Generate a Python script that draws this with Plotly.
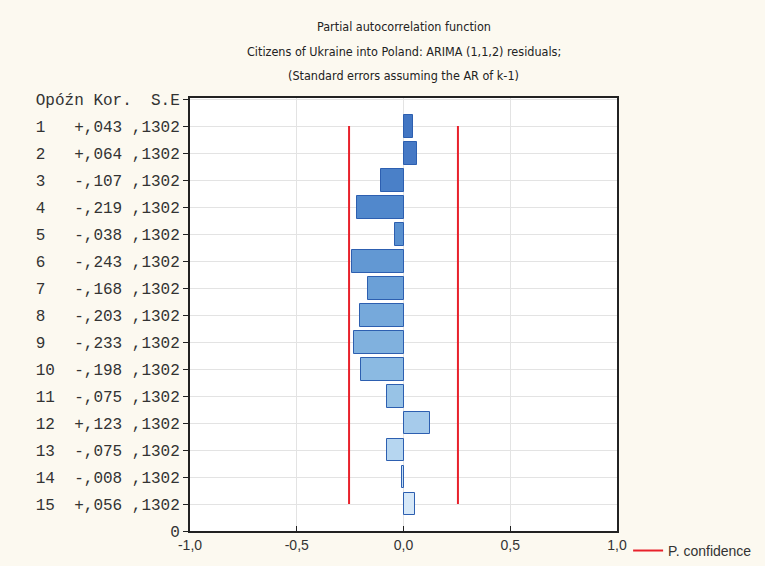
import plotly.graph_objects as go

lags = list(range(1, 16))
pacf = [0.043, 0.064, -0.107, -0.219, -0.038, -0.243, -0.168, -0.203,
        -0.233, -0.198, -0.075, 0.123, -0.075, -0.008, 0.056]
std_err = [0.1302] * 15
conf_limit = 0.255  # approx 1.96 * S.E.
header_label = "Opóźn Kor.  S.E"
x_ticks = [-1.0, -0.5, 0.0, 0.5, 1.0]
x_tick_labels = ["-1,0", "-0,5", "0,0", "0,5", "1,0"]
title_lines = [
    "Partial autocorrelation function",
    "Citizens of Ukraine into Poland: ARIMA (1,1,2) residuals;",
    "(Standard errors assuming the AR of k-1)",
]

bar_fill = ["#4276c3", "#4679c5", "#4a80c8", "#5188cc", "#5990cf", "#6298d3",
            "#6ba0d7", "#76a9db", "#80b1de", "#8bbae2", "#98c3e6", "#a6cbeb",
            "#b6d6f0", "#c5dff4", "#d6e8f8"]
bar_line = ["#2d5fb0"] * 15


def fmt_val(v):
    s = "+" if v >= 0 else "-"
    return f"{s},{round(abs(v) * 1000):03d}"


def fmt_se(v):
    return "," + f"{v:.4f}".split(".")[1]


tick_vals = [0] + lags + [16]
tick_text = [header_label] + [f"{l:<4}{fmt_val(v)} {fmt_se(s)}" for l, v, s in zip(lags, pacf, std_err)] + ["0"]

fig = go.Figure()
fig.add_trace(go.Bar(
    x=pacf, y=lags, orientation="h", width=0.85,
    marker=dict(color=bar_fill, line=dict(color=bar_line, width=1)),
    showlegend=False, hoverinfo="x+y",
))
for i, xv in enumerate([-conf_limit, conf_limit]):
    fig.add_trace(go.Scatter(
        x=[xv, xv], y=[lags[0], lags[-1]], mode="lines",
        line=dict(color="#e8212b", width=2),
        name="P. confidence", showlegend=(i == 0),
    ))

ann = []
for yy, t in zip([1.166, 1.107, 1.052], title_lines):
    ann.append(dict(text=t, x=0.5, y=yy, xref="paper", yref="paper",
                    xanchor="center", yanchor="middle", showarrow=False,
                    font=dict(family="DejaVu Sans Condensed, Liberation Sans, Arial",
                              size=12.5, color="#222")))

fig.update_layout(
    width=765, height=566,
    margin=dict(l=190, r=148, t=98, b=35, autoexpand=False),
    paper_bgcolor="#fcf9f0", plot_bgcolor="#ffffff",
    annotations=ann,
    bargap=0,
    legend=dict(orientation="h", x=1.026, y=-0.046, xanchor="left", yanchor="middle",
                bgcolor="rgba(0,0,0,0)",
                font=dict(family="Liberation Sans, Arial", size=14, color="#333")),
    xaxis=dict(range=[-1, 1], tickvals=x_ticks, ticktext=x_tick_labels,
               showgrid=True, gridcolor="#e3e3e3", gridwidth=1, automargin=False,
               zeroline=False, showline=True, linecolor="#222", linewidth=2,
               mirror=True, ticks="inside", ticklen=5, tickcolor="#222",
               tickfont=dict(family="Liberation Sans, Arial", size=14, color="#333")),
    yaxis=dict(range=[16, -0.04], tickvals=tick_vals, ticktext=tick_text,
               showgrid=True, gridcolor="#e3e3e3", gridwidth=1, automargin=False,
               zeroline=False, showline=True, linecolor="#222", linewidth=2,
               mirror=True, ticks="outside", ticklen=5, tickcolor="#222",
               tickfont=dict(family="Liberation Mono, Courier New, monospace", size=16, color="#333")),
)
fig.write_html("out.html", config={"displayModeBar": False},
               post_script="document.body.style.margin='0';")
